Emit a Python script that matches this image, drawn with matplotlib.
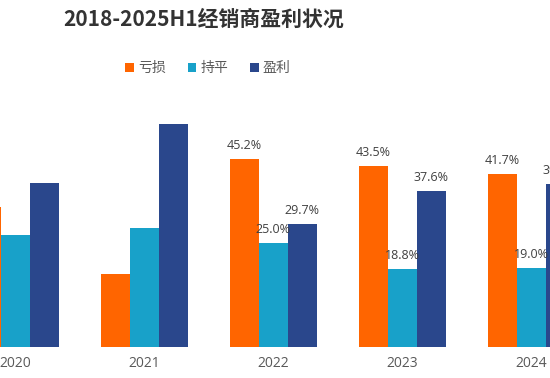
import matplotlib
matplotlib.use("Agg")
import matplotlib.pyplot as plt
import numpy as np

plt.rcParams['font.family'] = ['Noto Sans CJK SC', 'DejaVu Sans']

title = "2018-2025H1经销商盈利状况"
categories = ['2020', '2021', '2022', '2023', '2024']
series_names = ['亏损', '持平', '盈利']
loss = [33.8, 17.5, 45.2, 43.5, 41.7]
flat = [26.9, 28.6, 25.0, 18.8, 19.0]
profit = [39.4, 53.7, 29.7, 37.6, 39.2]
labeled = [False, False, True, True, True]

colors = ['#FF6500', '#18A1C9', '#2A478C']

fig = plt.figure(figsize=(5.5, 3.78), dpi=100)
ax = fig.add_axes([0, 31.3 / 378, 1, 248.8 / 378])

x = np.arange(len(categories))
w = 0.225
for k, (vals, name, c) in enumerate(zip([loss, flat, profit], series_names, colors)):
    bars = ax.bar(x + (k - 1) * w, vals, w, color=c, label=name)
    for i, b in enumerate(bars):
        if labeled[i]:
            ax.annotate(f"{vals[i]:.1f}%", (b.get_x() + b.get_width() / 2, b.get_height()),
                        xytext=(0, 5), textcoords='offset points', ha='center', va='bottom',
                        fontsize=9, color='#404040', family=['Open Sans', 'DejaVu Sans'],
                        annotation_clip=False)

ax.set_xlim(-15.2 / 129, (550 - 15.2) / 129)
ax.set_ylim(0, 60)
ax.set_xticks(x)
ax.set_xticklabels(categories, fontsize=10, color='#595959', family=['Open Sans', 'DejaVu Sans'])
ax.tick_params(axis='x', length=0, pad=7)
ax.set_yticks([])
for s in ax.spines.values():
    s.set_visible(False)

fig.text(204 / 550, 1 - 19 / 378, title, ha='center', va='center', fontsize=15,
         fontweight='bold', color='#333333')

fig.legend(loc='center', bbox_to_anchor=(208 / 550, 1 - 68 / 378), ncol=3, frameon=False,
           fontsize=10, handlelength=0.6, handleheight=0.6, handletextpad=0.3,
           columnspacing=1.6, labelcolor='#595959')

fig.savefig('out.png', dpi=100)
